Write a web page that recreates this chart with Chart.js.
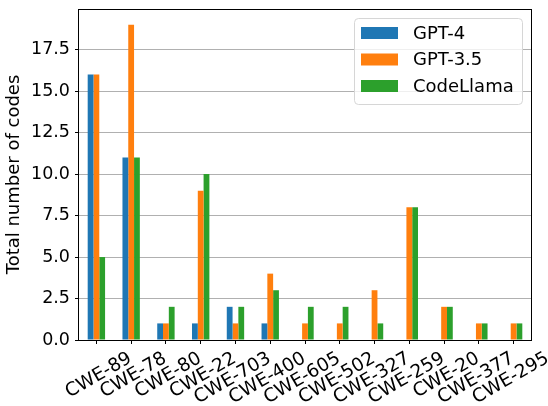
<!DOCTYPE html>
<html lang="en">

<head>
    <meta charset="UTF-8">
    <title>CWE codes per model</title>
    <script src="https://cdn.jsdelivr.net/npm/chart.js"></script>
    <style>
        html, body { margin: 0; padding: 0; background: #fff; }
        #wrap { width: 548px; height: 406px; }
    </style>
</head>

<body>
    <div id="wrap">
        <canvas id="canvasCwe" width="548" height="406"></canvas>
    </div>
</body>

<script>

    const categorias = ['CWE-89', 'CWE-78', 'CWE-80', 'CWE-22', 'CWE-703', 'CWE-400', 'CWE-605',
        'CWE-502', 'CWE-327', 'CWE-259', 'CWE-20', 'CWE-377', 'CWE-295'];
    const gpt4 = [16, 11, 1, 1, 2, 1, 0, 0, 0, 0, 0, 0, 0];
    const gpt35 = [16, 19, 1, 9, 1, 4, 1, 1, 3, 8, 2, 1, 1];
    const codeLlama = [5, 11, 2, 10, 2, 3, 2, 2, 1, 8, 2, 1, 1];
    const ticksY = [0, 2.5, 5, 7.5, 10, 12.5, 15, 17.5];

    Chart.defaults.font.family = "'DejaVu Sans', sans-serif";
    Chart.defaults.color = '#000';

    // moldura completa (4 lados) + legenda dentro do gráfico
    const molduraLegenda = {
        id: 'molduraLegenda',
        afterDraw(chart) {
            const ctx = chart.ctx;
            const a = chart.chartArea;
            ctx.save();
            ctx.strokeStyle = '#000';
            ctx.lineWidth = 1;
            ctx.strokeRect(a.left - 0.5, a.top + 0.5, a.right - a.left + 1, a.bottom - a.top);

            const x0 = 354, y0 = 18, w = 168, h = 86;
            ctx.beginPath();
            ctx.roundRect(x0 + 0.5, y0 + 0.5, w, h, 4);
            ctx.fillStyle = 'rgba(255,255,255,0.8)';
            ctx.fill();
            ctx.strokeStyle = '#d6d6d6';
            ctx.stroke();

            ctx.font = "18px 'DejaVu Sans'";
            ctx.textBaseline = 'middle';
            chart.data.datasets.forEach((ds, i) => {
                const cy = 33 + i * 26.5;
                ctx.fillStyle = ds.backgroundColor;
                ctx.fillRect(361, cy - 6, 37, 12);
                ctx.fillStyle = '#000';
                ctx.fillText(ds.label, 413, cy + 1);
            });
            ctx.restore();
        }
    };

    new Chart(document.getElementById('canvasCwe'), {
        type: 'bar',
        data: {
            labels: categorias,
            datasets: [
                { label: 'GPT-4', data: gpt4, backgroundColor: '#1f77b4' },
                { label: 'GPT-3.5', data: gpt35, backgroundColor: '#ff7f0e' },
                { label: 'CodeLlama', data: codeLlama, backgroundColor: '#2ca02c' }
            ]
        },
        options: {
            responsive: false,
            animation: false,
            categoryPercentage: 0.5,
            barPercentage: 1.0,
            layout: { padding: { top: 9, right: 17, left: 0, bottom: 0 } },
            plugins: {
                legend: { display: false },
                tooltip: { enabled: false }
            },
            scales: {
                x: {
                    grid: {
                        offset: false,
                        drawOnChartArea: false,
                        tickColor: '#000',
                        tickLength: 4
                    },
                    border: { display: false },
                    ticks: {
                        font: { size: 18.5 },
                        minRotation: 30,
                        maxRotation: 30,
                        autoSkip: false,
                        labelOffset: 34,
                        padding: 3.5
                    },
                    afterFit(scale) {
                        scale.height = 66;
                        scale.paddingLeft = 0;
                        scale.paddingRight = 0;
                    }
                },
                y: {
                    min: 0,
                    max: 19.95,
                    grid: {
                        color: '#b0b0b0',
                        lineWidth: 1,
                        tickColor: '#000',
                        tickLength: 4
                    },
                    border: { display: false },
                    afterBuildTicks(scale) {
                        scale.ticks = ticksY.map(v => ({ value: v }));
                    },
                    ticks: {
                        font: { size: 17.5 },
                        padding: 5,
                        callback: v => v.toFixed(1)
                    },
                    title: {
                        display: true,
                        text: 'Total number of codes',
                        font: { size: 18 },
                        padding: { top: 4, bottom: 0 }
                    },
                    afterFit(scale) {
                        scale.width = 79;
                        scale.paddingTop = 0;
                        scale.paddingBottom = 0;
                    }
                }
            }
        },
        plugins: [molduraLegenda]
    });
</script>

</html>
